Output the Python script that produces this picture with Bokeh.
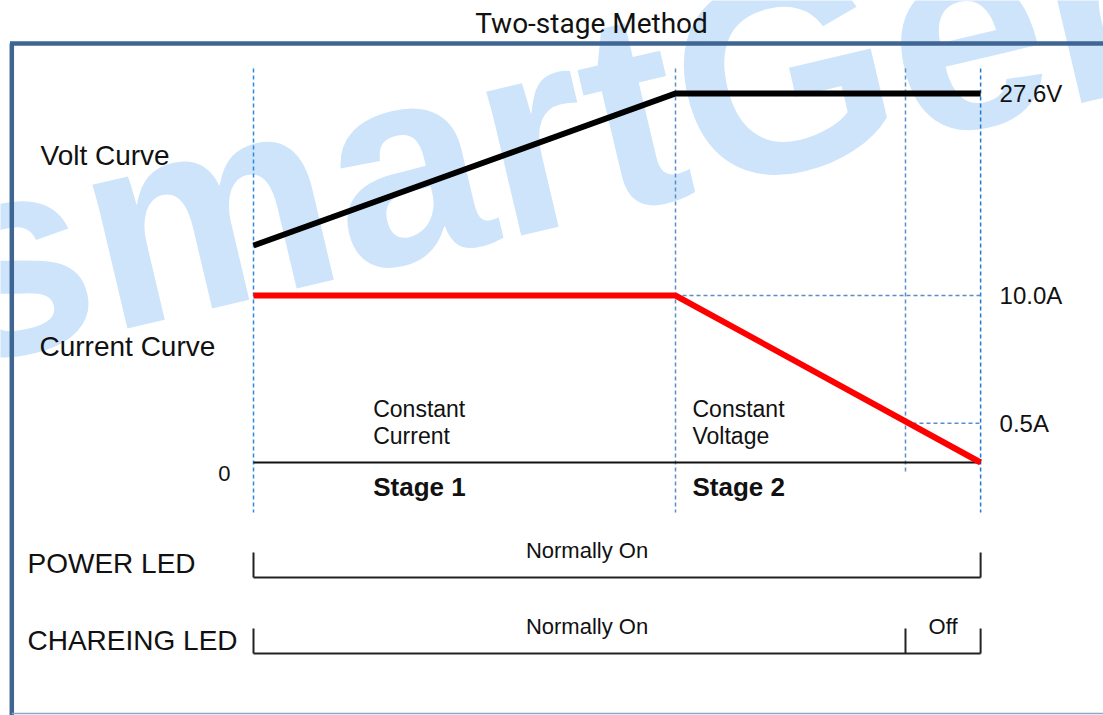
from bokeh.plotting import figure
from bokeh.models import Range1d
from bokeh.core.properties import value
from bokeh.embed import file_html
from bokeh.resources import INLINE

# ---------------- data (schematic units) ----------------
# time axis: stage 1 spans 0..10 (relative units)
stage_t = [0.0, 10.0, 15.45, 17.23]          # start, end of stage 1, 0.5A cut-off, end
volt_t = [0.0, 10.0, 17.23]
volt_v = [20.0, 27.6, 27.6]                  # volt curve (V)
curr_t = [0.0, 10.0, 17.23]
curr_a = [10.0, 10.0, 0.0]                   # current curve (schematic level, A)
cutoff_level = 2.35                          # schematic height of the 0.5A marker
right_labels = ["27.6V", "10.0A", "0.5A"]
power_led = [("Normally On", 0.0, 17.23)]
charge_led = [("Normally On", 0.0, 15.45), ("Off", 15.45, 17.23)]

# ---------------- layout helpers (picture pixels -> data units) ----------------
W, H = 1103, 715
X0_PX, PX_PER_T = 253.0, 42.2
Y0_PX, PX_PER_A = 462.0, 16.7
V_REF, V_PX, PX_PER_V = 27.6, 93.0, 20.0


def tx(px):
    return (px - X0_PX) / PX_PER_T


def ay(py):
    return (Y0_PX - py) / PX_PER_A


p = figure(width=W, height=H, output_backend="svg", toolbar_location=None,
           x_range=Range1d(tx(0), tx(W)), y_range=Range1d(ay(H), ay(0)),
           x_axis_type=None, y_axis_type=None, min_border=0)
p.extra_y_ranges = {"volt": Range1d(V_REF - (H - V_PX) / PX_PER_V,
                                    V_REF + V_PX / PX_PER_V)}
p.grid.visible = False
p.outline_line_color = None
p.background_fill_color = "white"
p.border_fill_color = "white"

SANS = value("Liberation Sans")
INK = "#111111"


def label(xs, ys, texts, size, align="left", bold=False, font=SANS):
    p.text(x=xs, y=ys, text=texts, text_font=font,
           text_font_style="bold" if bold else "normal",
           text_font_size=value(size), text_color=INK, text_align=align,
           text_baseline="middle")


# watermark
p.text(x=[tx(-66)], y=[ay(274)], text=["smartGen"], angle=13.3, angle_units="deg",
       text_font=SANS, text_font_style="bold",
       text_font_size=value("280px"), text_color="#cde4fb",
       text_align="left", text_baseline="middle")

# frame border
p.line([tx(11.3), tx(11.3)], [ay(43), ay(H)], line_color="#3f6592", line_width=4.5)
p.line([tx(9.5), tx(W)], [ay(43), ay(43)], line_color="#3f6592", line_width=4.5)
p.line([tx(11.3), tx(W)], [ay(713), ay(713)], line_color="#8fa6c9", line_width=1.5)

# title
label([tx(591)], [ay(22.5)], ["Two-stage Method"], "28px", align="center",
      font=value("Roboto"))

# vertical dashed guides
v_colors = ["#2a8ae0", "#5a8ec8", "#5a8ec8", "#1f78d1"]
v_bottom = [512, 512, 474, 512]
for t, c, b in zip(stage_t, v_colors, v_bottom):
    p.line([t, t], [ay(68), ay(b)], line_color=c, line_width=1.5, line_dash="4 3")

# horizontal dashed guides
p.line([stage_t[1], stage_t[3]], [curr_a[1], curr_a[1]], line_color="#5a8ec8",
       line_width=1.5, line_dash="4 3")
p.line([stage_t[2], stage_t[3]], [cutoff_level, cutoff_level], line_color="#5a8ec8",
       line_width=1.5, line_dash="4 3")

# zero line
p.line([stage_t[0], stage_t[3]], [0, 0], line_color=INK, line_width=2)

# curves
p.line(volt_t, volt_v, y_range_name="volt", line_color="#000000", line_width=6,
       line_join="miter")
p.line(curr_t, curr_a, line_color="#ff0000", line_width=6, line_join="miter")

# right-hand labels
p.text(x=[stage_t[3]] * 3, y=[ay(V_PX), curr_a[0], cutoff_level], text=right_labels,
       x_offset=19, text_font=SANS, text_font_size=value("24px"), text_color=INK,
       text_align="left", text_baseline="middle")

# left labels
label([tx(40), tx(39), tx(27), tx(27)], [ay(155), ay(346), ay(563), ay(640)],
      ["Volt Curve", "Current Curve", "POWER LED", "CHAREING LED"], "28px")
label([tx(230)], [ay(472.5)], ["0"], "22px", align="right")

# stage descriptions
s1 = stage_t[0] + tx(372.7)
s2 = stage_t[1] + (692 - 675) / PX_PER_T
label([s1, s1, s2, s2], [ay(408), ay(435), ay(408), ay(435)],
      ["Constant", "Current", "Constant", "Voltage"], "23px")
label([s1, s2], [ay(486.5), ay(486.5)], ["Stage 1", "Stage 2"], "26px", bold=True)


# LED brackets
def bracket(phases, base_py, top_py, label_py):
    ts = sorted({a for _, a, _ in phases} | {b for _, _, b in phases})
    p.line([ts[0], ts[-1]], [ay(base_py), ay(base_py)], line_color="#222222", line_width=2)
    for t in ts:
        p.line([t, t], [ay(base_py), ay(top_py)], line_color="#222222", line_width=2)
    for name, a, b in phases:
        cx = tx(586.5) if name == "Normally On" else (a + b) / 2
        label([cx], [ay(label_py)], [name], "22px", align="center")


bracket(power_led, 577, 552, 549.5)
bracket(charge_led, 653, 628, 625.5)

open("out.html", "w").write(file_html(p, INLINE))
